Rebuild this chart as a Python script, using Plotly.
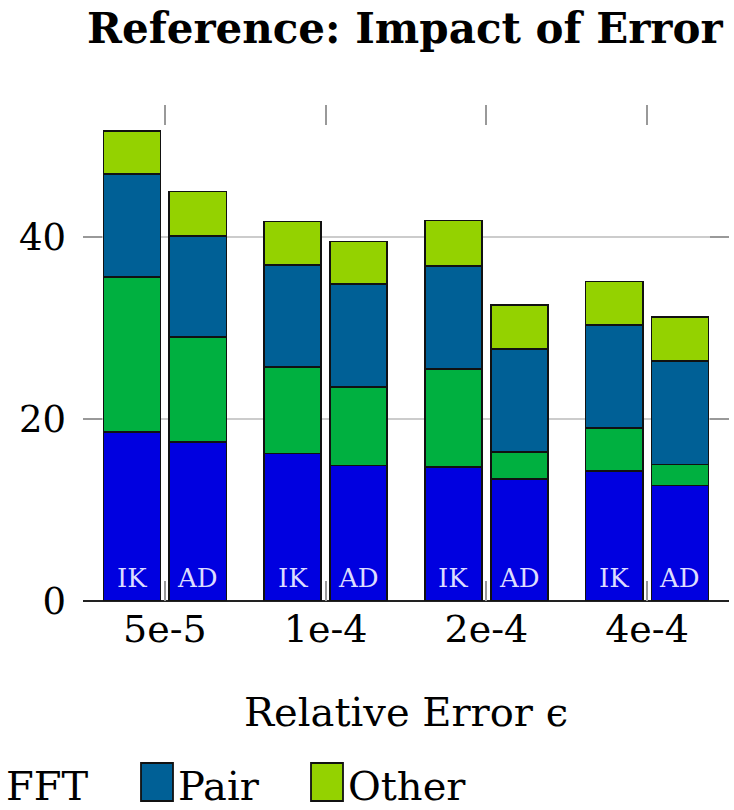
import plotly.graph_objects as go

# Error levels and solver variants
groups = ["5e-5", "1e-4", "2e-4", "4e-4"]
methods = ["IK", "AD"]

# Stacked time components per error level (IK bar, AD bar)
lower_ik = [18.6, 16.2, 14.7, 14.3]
lower_ad = [17.45, 14.9, 13.4, 12.7]
fft_ik = [17.0, 9.5, 10.8, 4.7]
fft_ad = [11.55, 8.6, 3.0, 2.3]
pair_ik = [11.3, 11.2, 11.3, 11.3]
pair_ad = [11.1, 11.3, 11.3, 11.4]
other_ik = [4.7, 4.8, 5.0, 4.8]
other_ad = [4.9, 4.7, 4.8, 4.8]

y_ticks = [0, 20, 40]

# Figure geometry (pixels)
W, H = 734, 810
ML, MR, MT, MB = 83, 5, 105, 209
PW, PH = W - ML - MR, H - MT - MB

FONT = "DejaVu Serif, serif"
COLORS = {"lower": "#0000E0", "FFT": "#00B040", "Pair": "#006096", "Other": "#94D200"}

OFFSET = 0.205
BAR_W = 0.355
x_ik = [i - OFFSET for i in range(len(groups))]
x_ad = [i + OFFSET for i in range(len(groups))]


def px_x(px):
    return (px - ML) / PW


def px_y(py):
    return (H - MB - py) / PH


series = [
    ("lower", lower_ik, lower_ad),
    ("FFT", fft_ik, fft_ad),
    ("Pair", pair_ik, pair_ad),
    ("Other", other_ik, other_ad),
]

fig = go.Figure()
for name, ik, ad in series:
    fig.add_trace(go.Bar(
        x=x_ik + x_ad,
        y=ik + ad,
        width=BAR_W,
        name=name,
        marker=dict(color=COLORS[name], line=dict(color="#111111", width=1.8)),
        showlegend=False,
    ))

annotations = []
# Variant labels at the foot of each bar
for xs, label in ((x_ik, methods[0]), (x_ad, methods[1])):
    for xv in xs:
        annotations.append(dict(
            x=xv, y=2.5, xref="x", yref="y", text=label, showarrow=False,
            font=dict(family=FONT, size=26, color="#dcdcff"),
        ))

# Title
annotations.append(dict(
    x=px_x(405), y=px_y(29), xref="paper", yref="paper",
    text="<b>Reference: Impact of Error</b>", showarrow=False,
    xanchor="center", yanchor="middle",
    font=dict(family=FONT, size=42, color="black"),
))

# X axis title
annotations.append(dict(
    x=px_x(406), y=px_y(712), xref="paper", yref="paper",
    text="Relative Error ϵ", showarrow=False,
    xanchor="center", yanchor="middle",
    font=dict(family=FONT, size=40, color="black"),
))

# Legend row
legend_items = [
    (None, "FFT", 4),
    ("Pair", "Pair", 176),
    ("Other", "Other", 346),
]
swatch_x = {"Pair": (141, 173), "Other": (311, 343)}
shapes = []
for key, text, tx in legend_items:
    annotations.append(dict(
        x=px_x(tx), y=px_y(786), xref="paper", yref="paper",
        text=text, showarrow=False, xanchor="left", yanchor="middle",
        font=dict(family=FONT, size=40, color="black"),
    ))
    if key is not None:
        x0, x1 = swatch_x[key]
        shapes.append(dict(
            type="rect", xref="paper", yref="paper",
            x0=px_x(x0), x1=px_x(x1), y0=px_y(801), y1=px_y(763),
            fillcolor=COLORS[key], line=dict(color="#111111", width=1.8),
        ))

fig.update_layout(
    width=W, height=H,
    margin=dict(l=ML, r=MR, t=MT, b=MB, pad=0),
    barmode="stack",
    paper_bgcolor="white", plot_bgcolor="white",
    font=dict(family=FONT, color="black"),
    annotations=annotations,
    shapes=shapes,
    showlegend=False,
)

fig.update_xaxes(
    range=[-0.51, 3.51],
    tickmode="array", tickvals=list(range(len(groups))), ticktext=groups,
    ticks="inside", ticklen=20, tickwidth=1.5, tickcolor="#999999",
    mirror="ticks", showline=False, showgrid=False, zeroline=False,
    tickfont=dict(family=FONT, size=38, color="black"),
    ticklabelstandoff=2,
)
fig.update_yaxes(
    range=[0, 54.5],
    tickmode="array", tickvals=y_ticks,
    ticks="inside", ticklen=19, tickwidth=2, tickcolor="#999999",
    mirror="ticks", showline=False,
    showgrid=True, gridcolor="#cccccc", gridwidth=2,
    zeroline=True, zerolinecolor="#222222", zerolinewidth=2,
    tickfont=dict(family=FONT, size=37, color="black"),
    ticklabelstandoff=16,
)

fig.write_html("out.html")
